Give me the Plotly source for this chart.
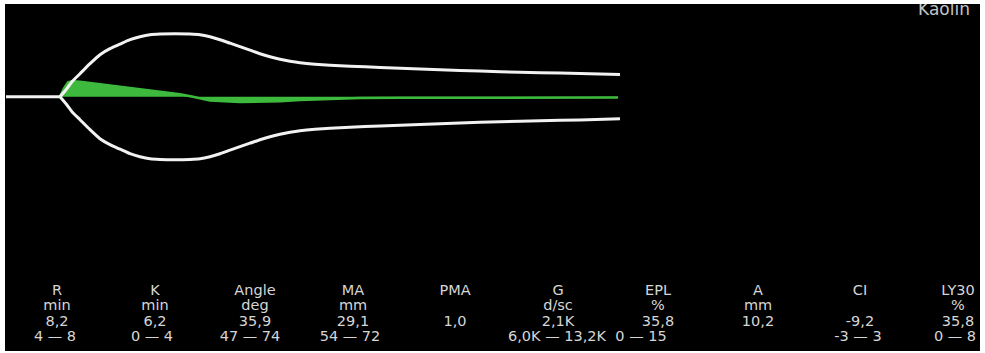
import plotly.graph_objects as go

# --- TEG tracing (Kaolin) ---
# time in minutes, amplitude in mm (full width, drawn symmetrically about 0)
baseline_time = [0.0, 8.2]
trace_time = [8.20, 9.11, 10.02, 11.24, 12.76, 14.27, 15.79, 17.31, 18.83, 20.35,
              21.87, 23.39, 25.66, 27.94, 29.46, 30.98, 32.50, 34.02, 35.53, 37.05,
              38.57, 40.09, 41.61, 43.13, 44.65, 46.92, 49.20, 52.24, 56.80, 62.87,
              68.94, 75.02, 81.09, 87.17, 93.24]
amplitude = [0.0, 3.23, 6.93, 10.62, 15.24, 19.40, 22.17, 24.25, 26.33, 27.71,
             28.64, 28.95, 29.10, 28.95, 28.64, 27.71, 26.33, 24.71, 23.09, 21.48,
             19.86, 18.48, 17.32, 16.40, 15.70, 15.01, 14.55, 14.09, 13.53, 12.84,
             12.15, 11.55, 11.09, 10.72, 10.20]

# clot formation velocity curve (green)
velocity_time = [8.2, 8.81, 9.42, 10.02, 11.24, 14.27, 17.31, 20.35, 23.39, 26.42,
                 28.40, 30.98, 35.53, 38.57, 41.61, 44.65, 49.20, 53.76, 59.83,
                 75.0, 92.94]
velocity = [0.0, 1.9, 3.3, 3.55, 3.45, 2.9, 2.3, 1.75, 1.15, 0.55,
            0.0, -0.9, -1.2, -1.2, -1.05, -0.75, -0.45, -0.3, -0.25,
            -0.22, -0.2]

# --- results table ---
param_names = ["R", "K", "Angle", "MA", "PMA", "G", "EPL", "A", "CI", "LY30"]
param_units = ["min", "min", "deg", "mm", "", "d/sc", "%", "mm", "", "%"]
param_values = ["8,2", "6,2", "35,9", "29,1", "1,0", "2,1K", "35,8", "10,2", "-9,2", "35,8"]
param_ranges = ["4 — 8", "0 — 4", "47 — 74", "54 — 72", "", "6,0K — 13,2K",
                "0 — 15", "", "-3 — 3", "0 — 8"]
activator = "Kaolin"

W, H = 985, 353
M_L, M_R, M_T, M_B = 5, 5, 4, 2
PX_PER_MIN = 6.585
PX_PER_MM = 4.33
ORIGIN_X, ORIGIN_Y = 6, 96.7

plot_w = W - M_L - M_R
plot_h = H - M_T - M_B
x_range = [-(ORIGIN_X - M_L) / PX_PER_MIN, (M_L + plot_w - ORIGIN_X) / PX_PER_MIN]
y_range = [-(M_T + plot_h - ORIGIN_Y) / PX_PER_MM, (ORIGIN_Y - M_T) / PX_PER_MM]


def at_x(px):
    return (px - ORIGIN_X) / PX_PER_MIN


def at_y(py):
    return (ORIGIN_Y - py) / PX_PER_MM


WHITE = "#f2f2f2"
GREEN = "#3dba3d"
TEXT = "#d6d6d6"

fig = go.Figure()

# velocity curve, filled to the baseline
fig.add_trace(go.Scatter(
    x=velocity_time, y=velocity, mode="lines", fill="tozeroy",
    line=dict(color=GREEN, width=2.5), fillcolor=GREEN, hoverinfo="skip"))

# flat baseline before clot starts
fig.add_trace(go.Scatter(
    x=baseline_time, y=[0, 0], mode="lines",
    line=dict(color=WHITE, width=3), hoverinfo="skip"))

# upper and lower envelope
for sign in (1, -1):
    fig.add_trace(go.Scatter(
        x=trace_time, y=[sign * a / 2 for a in amplitude], mode="lines",
        line=dict(color=WHITE, width=3, shape="spline", smoothing=0.5),
        hoverinfo="skip"))

# activator label, top right
fig.add_trace(go.Scatter(
    x=[at_x(944)], y=[at_y(11)], mode="text", text=[activator], cliponaxis=True,
    textfont=dict(family="DejaVu Sans", size=17, color="#c4c4c4"), hoverinfo="skip"))

col_x = [57, 155, 255, 353, 455, 558, 658, 758, 860, 958]
range_x = [55, 152, 250, 350, 455, 557, 641, 758, 858, 955]
row_y = [291, 306, 322, 337]

rows = [(param_names, col_x), (param_units, col_x),
        (param_values, col_x), (param_ranges, range_x)]
for (labels, xs), ry in zip(rows, row_y):
    pts = [(at_x(cx), t) for t, cx in zip(labels, xs) if t]
    fig.add_trace(go.Scatter(
        x=[p[0] for p in pts], y=[at_y(ry)] * len(pts), text=[p[1] for p in pts],
        mode="text", textposition="middle center", cliponaxis=False,
        textfont=dict(family="DejaVu Sans", size=14.5, color=TEXT), hoverinfo="skip"))

fig.update_layout(
    width=W, height=H, autosize=False,
    margin=dict(l=M_L, r=M_R, t=M_T, b=M_B, pad=0),
    paper_bgcolor="white", plot_bgcolor="black",
    showlegend=False,
    xaxis=dict(range=x_range, visible=False, fixedrange=True),
    yaxis=dict(range=y_range, visible=False, fixedrange=True),
)

fig.write_html("out.html", config={"displayModeBar": False})
